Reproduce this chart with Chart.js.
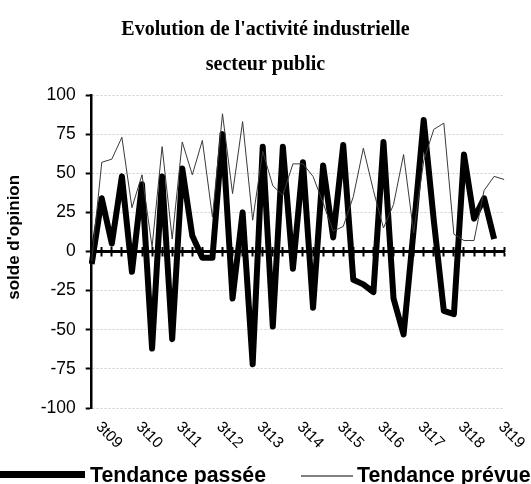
<!DOCTYPE html>
<html><head><meta charset="utf-8">
<script src="https://cdn.jsdelivr.net/npm/chart.js@4.4.1/dist/chart.umd.min.js"></script>
<style>
html,body{margin:0;padding:0;background:#fff;overflow:hidden;width:531px;height:484px}
#wrap{position:relative;width:531px;height:484px;overflow:hidden}
canvas{position:absolute;left:0;top:0}
.leg{position:absolute;font-family:'Liberation Sans',Arial,sans-serif;font-weight:bold;font-size:21.3px;white-space:nowrap;color:#000;line-height:21px}
.sw{position:absolute}
</style></head><body>
<div id="wrap"><canvas id="c" width="531" height="484"></canvas><div id="legend"></div></div>
<script>
const categories = ['2t09','3t09','4t09','1t10','2t10','3t10','4t10','1t11','2t11','3t11','4t11','1t12','2t12','3t12','4t12','1t13','2t13','3t13','4t13','1t14','2t14','3t14','4t14','1t15','2t15','3t15','4t15','1t16','2t16','3t16','4t16','1t17','2t17','3t17','4t17','1t18','2t18','3t18','4t18','1t19','2t19','3t19'];
const tendancePassee = [-8,34,5,48,-13,43,-62,48,-56,53,10,-4,-4,75,-30,25,-72,67,-48,67,-11,57,-36,55,9,68,-18,-21,-26,70,-30,-53,14,84,20,-38,-40,62,21,34,8,null];
const tendancePrevue = [-6,57,59,73,28,49,3,67,8,70,49,71,22,88,37,83,20,64,42,36,56,56,48,31,13,16,35,66,39,15,30,62,12,58,78,82,11,7,7,39,48,46];
const seriesNames = ['Tendance passée','Tendance prévue'];
const titleLines = ["Evolution de l'activité industrielle", 'secteur public'];
const yAxisTitle = "solde d'opinion";
const shownLabelPrefix = '3t';

const labelAlign = {
  id: 'labelAlign',
  afterLayout(chart) {
    const s = chart.scales.x;
    if (s) s._getXAxisLabelAlignment = () => 'left';
  }
};

new Chart(document.getElementById('c'), {
  type: 'line',
  data: {
    labels: categories,
    datasets: [
      {label: seriesNames[0], data: tendancePassee, borderColor: '#000', backgroundColor: '#000', borderWidth: 6, pointRadius: 0, borderJoinStyle: 'round', tension: 0, order: 1},
      {label: seriesNames[1], data: tendancePrevue, borderColor: '#3a3a3a', backgroundColor: '#3a3a3a', borderWidth: 1, pointRadius: 0, tension: 0, order: 0}
    ]
  },
  options: {
    responsive: false,
    animation: false,
    layout: {padding: {left: 0, right: 0, top: 0, bottom: 31}},
    plugins: {
      legend: {display: false},
      tooltip: {enabled: false},
      title: {display: true, text: titleLines, color: '#000',
        font: {family: 'Liberation Serif', size: 20, weight: 'bold', lineHeight: 1.75},
        padding: {top: 12, bottom: 13}}
    },
    scales: {
      x: {
        type: 'category', position: 'bottom', offset: false,
        grid: {display: false, drawTicks: false}, border: {display: false},
        ticks: {autoSkip: false, minRotation: -45, maxRotation: -45, padding: 10, labelOffset: -3.5,
          color: '#000', font: {family: 'Liberation Sans', size: 15.5},
          callback: (v, i) => categories[i].startsWith(shownLabelPrefix) ? categories[i] : ''},
        afterFit: s => { s.height = 45; s.paddingLeft = 0; s.paddingRight = 26.8; }
      },
      x0: {
        type: 'category', position: {y: 0}, offset: false,
        grid: {drawOnChartArea: false, drawTicks: true, tickLength: 3.5, tickWidth: 2, tickColor: '#000', offset: false},
        border: {display: true, width: 3, color: '#000'},
        ticks: {display: false}
      },
      x1: {
        type: 'category', position: {y: 0}, offset: false,
        grid: {drawOnChartArea: false, drawTicks: true, tickLength: -5, tickWidth: 2, tickColor: '#000', offset: false},
        border: {display: false},
        ticks: {display: false}
      },
      y: {
        min: -100, max: 100,
        ticks: {stepSize: 25, padding: 10, color: '#000', font: {family: 'Liberation Sans', size: 17.5}},
        grid: {color: '#cfcfcf', lineWidth: 1, tickLength: 6, tickWidth: 2, tickColor: '#000'},
        border: {display: true, width: 2.5, color: '#000', dash: [2, 2]},
        title: {display: true, text: '      ' + yAxisTitle, color: '#000', font: {family: 'Liberation Sans', size: 17, weight: 'bold'}, padding: {top: 4, bottom: 0}},
        afterFit: s => { s.width = 91.7; }
      }
    }
  },
  plugins: [labelAlign]
});

// legend (HTML, overflowing the page like the original)
const leg = document.getElementById('legend');
const legItems = [
  {name: seriesNames[0], swLeft: 0, swWidth: 85, swTop: 471, swH: 7, color: '#000', textLeft: 90},
  {name: seriesNames[1], swLeft: 301, swWidth: 52, swTop: 475, swH: 2, color: '#808080', textLeft: 357}
];
legItems.forEach(it => {
  const sw = document.createElement('div');
  sw.className = 'sw';
  sw.style.cssText = `left:${it.swLeft}px;top:${it.swTop}px;width:${it.swWidth}px;height:${it.swH}px;background:${it.color}`;
  leg.appendChild(sw);
  const t = document.createElement('div');
  t.className = 'leg';
  t.style.left = it.textLeft + 'px';
  t.style.top = '465px';
  t.textContent = it.name;
  leg.appendChild(t);
});
</script>
</body></html>
